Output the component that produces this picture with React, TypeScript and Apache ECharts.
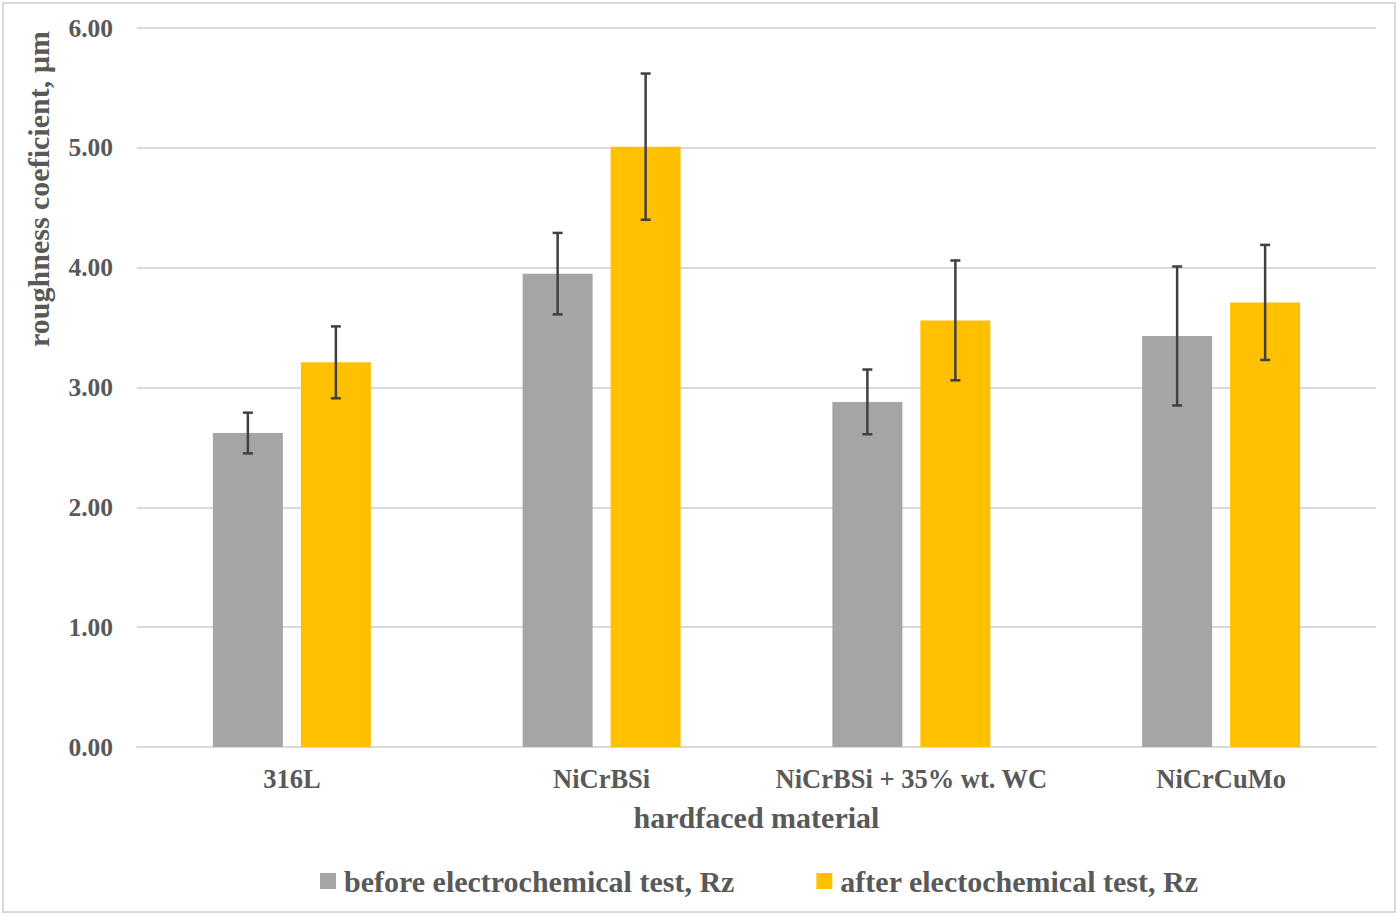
import React, { useEffect, useRef } from "react";
import * as echarts from "echarts";

const categories = ["316L", "NiCrBSi", "NiCrBSi + 35% wt. WC", "NiCrCuMo"];
const beforeValues = [2.62, 3.95, 2.88, 3.43];
const beforeErrors = [0.17, 0.34, 0.27, 0.58];
const afterValues = [3.21, 5.01, 3.56, 3.71];
const afterErrors = [0.30, 0.61, 0.50, 0.48];
const seriesNames = ["before electrochemical test, Rz", "after electochemical test, Rz"];
const yTicks = { min: 0, max: 6, interval: 1 };

const FONT = "'Liberation Serif', 'Times New Roman', serif";
const TEXT = "#595959";
const BAR_W = 70;
const BAR_GAP = 18;

export default function App() {
  const ref = useRef<HTMLDivElement>(null);
  useEffect(() => {
    document.body.style.margin = "0";
    if (!ref.current) return;
    const chart = echarts.init(ref.current, null, { renderer: "svg" });
    const offset = (BAR_W + BAR_GAP) / 2;
    const errSeries = (vals: number[], errs: number[], dir: number) => ({
      type: "custom",
      silent: true,
      z: 10,
      data: vals.map((v, i) => [i, v, errs[i]]),
      encode: { x: 0, y: 1 },
      renderItem: (params: any, api: any) => {
        const i = api.value(0);
        const v = api.value(1);
        const e = api.value(2);
        const top = api.coord([i, v + e]);
        const bot = api.coord([i, v - e]);
        const x = top[0] + dir * offset;
        const cap = 5;
        const st = { stroke: "#404040", lineWidth: 2.5 };
        return {
          type: "group",
          children: [
            { type: "line", shape: { x1: x, y1: top[1], x2: x, y2: bot[1] }, style: st },
            { type: "line", shape: { x1: x - cap, y1: top[1], x2: x + cap, y2: top[1] }, style: st },
            { type: "line", shape: { x1: x - cap, y1: bot[1], x2: x + cap, y2: bot[1] }, style: st },
          ],
        };
      },
    });
    chart.setOption({
      animation: false,
      backgroundColor: "#ffffff",
      textStyle: { fontFamily: FONT, fontWeight: "bold", color: TEXT },
      grid: { left: 137, right: 24, top: 28, bottom: 169 },
      legend: {
        left: 320,
        top: 866,
        padding: 0,
        itemWidth: 16,
        itemHeight: 16,
        itemGap: 82,
        icon: "rect",
        data: seriesNames,
        textStyle: { fontFamily: FONT, fontWeight: "bold", color: TEXT, fontSize: 30, padding: [0, 0, 0, 3] },
      },
      graphic: [
        {
          type: "rect",
          shape: { x: 3, y: 3, width: 1392, height: 909 },
          style: { fill: "none", stroke: "#d9d9d9", lineWidth: 2 },
          silent: true,
        },
        {
          type: "text",
          x: 38,
          y: 189,
          rotation: Math.PI / 2,
          style: {
            text: "roughness coeficient, µm",
            fontFamily: FONT,
            fontWeight: "bold",
            fontSize: 30,
            fill: TEXT,
            align: "center",
            verticalAlign: "middle",
          },
        },
      ],
      xAxis: {
        type: "category",
        data: categories,
        name: "hardfaced material",
        nameLocation: "middle",
        nameGap: 55,
        nameTextStyle: { fontFamily: FONT, fontWeight: "bold", color: TEXT, fontSize: 30 },
        axisLine: { lineStyle: { color: "#d9d9d9", width: 2 } },
        axisTick: { show: false },
        axisLabel: { interval: 0, fontFamily: FONT, fontWeight: "bold", color: TEXT, fontSize: 26.5, margin: 18 },
      },
      yAxis: {
        type: "value",
        min: yTicks.min,
        max: yTicks.max,
        interval: yTicks.interval,
        axisLine: { show: false },
        axisTick: { show: false },
        splitLine: { lineStyle: { color: "#d9d9d9", width: 2 } },
        axisLabel: {
          fontFamily: FONT,
          fontWeight: "bold",
          color: TEXT,
          fontSize: 25.5,
          margin: 24,
          formatter: (v: number) => v.toFixed(2),
        },
      },
      series: [
        {
          name: seriesNames[0],
          type: "bar",
          data: beforeValues,
          barWidth: BAR_W,
          barGap: `${(BAR_GAP / BAR_W) * 100}%`,
          itemStyle: { color: "#A5A5A5" },
        },
        {
          name: seriesNames[1],
          type: "bar",
          data: afterValues,
          barWidth: BAR_W,
          itemStyle: { color: "#FFC000" },
        },
        errSeries(beforeValues, beforeErrors, -1),
        errSeries(afterValues, afterErrors, 1),
      ],
    });
    return () => chart.dispose();
  }, []);
  return <div ref={ref} style={{ width: 1400, height: 916 }} />;
}
